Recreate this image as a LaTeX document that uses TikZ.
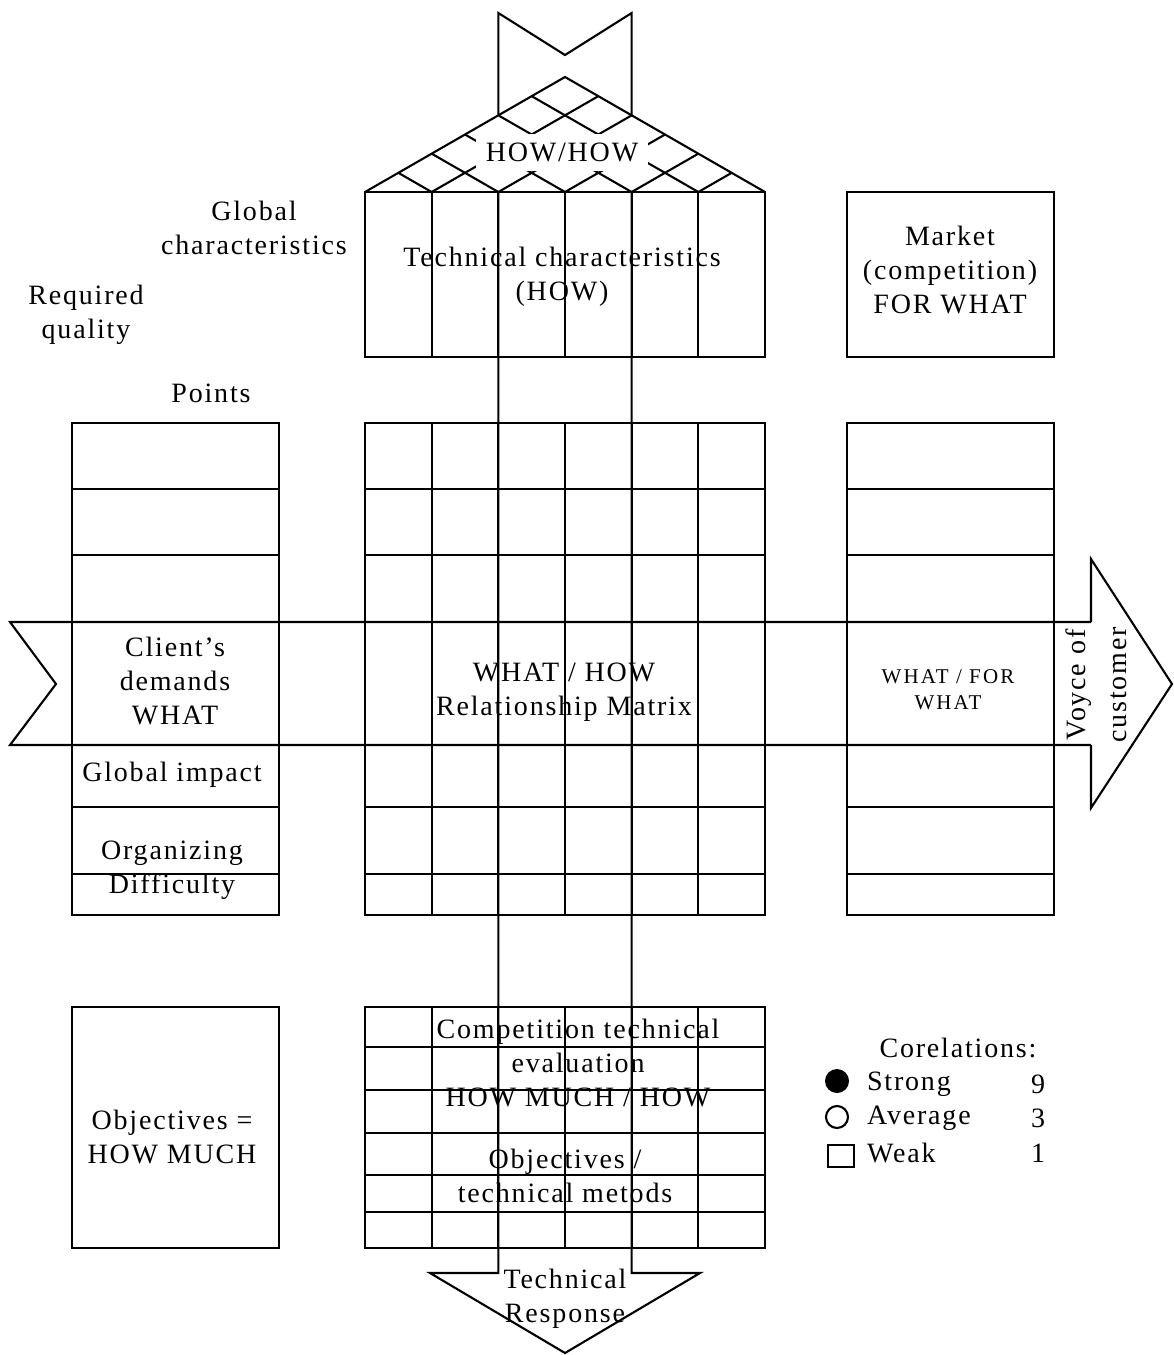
\documentclass[tikz,border=0pt]{standalone}
\usepackage{fontspec}
\setmainfont{Liberation Serif}[LetterSpace=6.5]
\newfontfamily\smallsp{Liberation Serif}[LetterSpace=10]
\begin{document}
\begin{tikzpicture}[x=1pt,y=-1pt,line width=2.1pt,line join=miter,
  lbl/.style={font=\fontsize{28}{34}\selectfont,align=center,inner sep=0pt},
  smalllbl/.style={font=\smallsp\fontsize{21}{26}\selectfont,align=center,inner sep=0pt},
  gridline/.style={line width=2.1pt}]
\useasboundingbox (0,0) rectangle (1174,1355);
\def\cw{66.6667}
% ---------- roof ----------
\draw[gridline] (365,192) -- (565,77) -- (765,192);
\foreach \k in {1,...,5}{
  \pgfmathsetmacro{\dx}{\cw*\k}
  \draw[gridline] (365+\dx,192) -- ({365+\dx/2},{192-0.575*\dx/2});
  \draw[gridline] (365+\dx,192) -- ({(365+\dx+765)/2},{192-0.575*(400-\dx)/2});
}
% ---------- technical characteristics box ----------
\draw[gridline] (365,192) rectangle (765,357);
\foreach \k in {1,...,5}{\draw[gridline] (365+\cw*\k,192) -- (365+\cw*\k,357);}
% ---------- market box ----------
\draw[gridline] (847,192) rectangle (1054,357);
% ---------- left column ----------
\draw[gridline] (72,423) rectangle (279,915);
\foreach \y in {489,555,622,745,807,874}{\draw[gridline] (72,\y) -- (279,\y);}
% ---------- central matrix ----------
\draw[gridline] (365,423) rectangle (765,915);
\foreach \k in {1,...,5}{\draw[gridline] (365+\cw*\k,423) -- (365+\cw*\k,915);}
\foreach \y in {489,555,622,745,807,874}{\draw[gridline] (365,\y) -- (765,\y);}
% ---------- right column ----------
\draw[gridline] (847,423) rectangle (1054,915);
\foreach \y in {489,555,622,745,807,874}{\draw[gridline] (847,\y) -- (1054,\y);}
% ---------- bottom matrix ----------
\draw[gridline] (365,1007) rectangle (765,1248);
\foreach \k in {1,...,5}{\draw[gridline] (365+\cw*\k,1007) -- (365+\cw*\k,1248);}
\foreach \y in {1047,1090,1133,1175,1212}{\draw[gridline] (365,\y) -- (765,\y);}
% ---------- objectives box ----------
\draw[gridline] (72,1007) rectangle (279,1248);
% ---------- vertical arrow (HOW) ----------
\draw[gridline] (498.33,115.3) -- (498.33,13) -- (565,55) -- (631.67,13) -- (631.67,115.3);
\draw[gridline] (498.33,192) -- (498.33,1273) -- (430,1273) -- (565,1353) -- (700,1273) -- (631.67,1273) -- (631.67,192);
% ---------- horizontal arrow (WHAT) ----------
\draw[gridline] (1091,622) -- (10,622) -- (56,684) -- (10,745) -- (1091,745);
\draw[gridline] (1091,622) -- (1091,559) -- (1172,684) -- (1091,808) -- (1091,745);
% ---------- texts ----------
\node[lbl,fill=white,inner xsep=10pt,minimum height=37pt] (howhow) at (562,152) {HOW/HOW};
\node[lbl] (globchar) at (254,228) {Global\\characteristics};
\node[lbl] (reqq) at (86,315) {Required\\quality};
\node[lbl] (points) at (211,393) {Points};
\node[lbl] (techchar) at (562,277) {Technical characteristics\\(HOW)};
\node[lbl] (market) at (950,270) {Market\\(competition)\\FOR WHAT};
\node[lbl] (client) at (175,681) {Client’s\\demands\\WHAT};
\node[lbl] (globimp) at (172,775) {Global impact};
\node[lbl] (orgdiff) at (172,870) {Organizing\\Difficulty};
\node[lbl] (whathow) at (564,692) {WHAT / HOW\\Relationship Matrix};
\node[smalllbl] (whatfor) at (948,690) {WHAT / FOR\\WHAT};
\node[lbl,rotate=90,font=\fontsize{28}{41}\selectfont] (voyce) at (1096,685) {Voyce of\\customer};
\node[lbl] (compet) at (578,1063) {Competition technical\\evaluation\\HOW MUCH / HOW};
\node[lbl] (objtech) at (565,1176) {Objectives /\\technical metods};
\node[lbl] (techresp) at (565,1299) {Technical\\Response};
\node[lbl] (objhm) at (172,1137) {Objectives =\\HOW MUCH};
% ---------- legend ----------
\node[lbl] (corel) at (958,1048) {Corelations:};
\fill (837,1081) circle (12);
\draw (837,1117) circle (11);
\draw (828,1145) rectangle (854,1167);
\node[lbl,anchor=west] (strong) at (866,1084) {Strong};
\node[lbl,anchor=west] (average) at (866,1118) {Average};
\node[lbl,anchor=west] (weak) at (866,1153) {Weak};
\node[lbl] (n9) at (1038,1084) {9};
\node[lbl] (n3) at (1038,1118) {3};
\node[lbl] (n1) at (1038,1153) {1};
\end{tikzpicture}
\end{document}
